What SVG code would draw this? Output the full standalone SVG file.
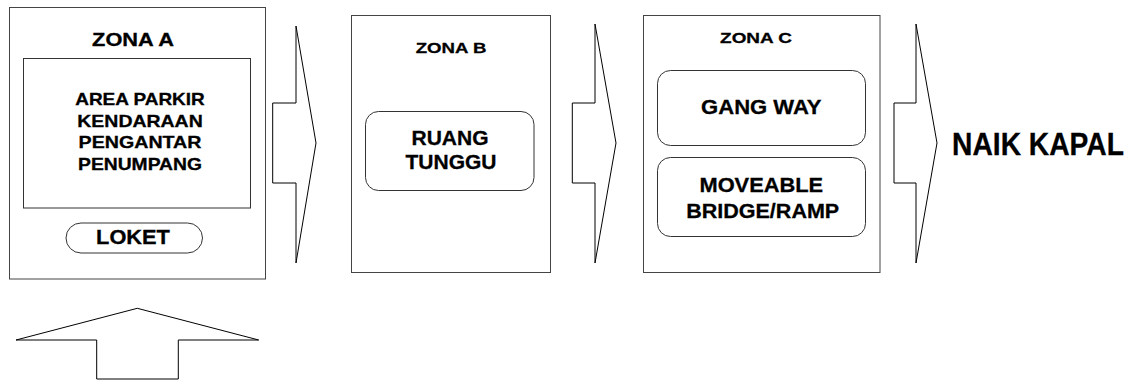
<svg xmlns="http://www.w3.org/2000/svg" width="1134" height="380" viewBox="0 0 1134 380">
<style>
.zone{fill:#fff;stroke:#444;stroke-width:1}
.inner{fill:#fff;stroke:#333;stroke-width:1}
.arrow{fill:#fff;stroke:#000;stroke-width:1;stroke-linejoin:miter}
text{font-family:"Liberation Sans",Arial,sans-serif;font-weight:bold;fill:#000;stroke:#000;stroke-width:0.3;text-anchor:middle}
</style>
<rect width="1134" height="380" fill="#fff"/>
<g id="zona-a">
<rect class="zone" x="9.5" y="7.5" width="256" height="271.5"/>
<text transform="translate(133,46) scale(1.21,1)" font-size="18">ZONA A</text>
<g id="area-parkir">
<rect class="inner" x="23.5" y="58.5" width="227" height="149.5"/>
<text transform="translate(140,105) scale(1.15,1)" font-size="16.5">AREA PARKIR</text>
<text transform="translate(140,126.5) scale(1.18,1)" font-size="16.5">KENDARAAN</text>
<text transform="translate(140,148) scale(1.19,1)" font-size="16.5">PENGANTAR</text>
<text transform="translate(140,169.5) scale(1.17,1)" font-size="16.5">PENUMPANG</text>
</g>
<g id="loket">
<rect class="inner" x="66" y="223" width="136.5" height="30" rx="15"/>
<text transform="translate(133,244) scale(1.09,1)" font-size="20">LOKET</text>
</g>
</g>
<g id="zona-b">
<rect class="zone" x="351.5" y="15.5" width="199" height="257"/>
<text transform="translate(451,52.7) scale(1.21,1)" font-size="15.4">ZONA B</text>
<g id="ruang-tunggu">
<rect class="inner" x="365.5" y="111.5" width="168.5" height="79" rx="13"/>
<text x="450" y="145" font-size="21">RUANG</text>
<text x="451" y="169" font-size="21">TUNGGU</text>
</g>
</g>
<g id="zona-c">
<rect class="zone" x="643.5" y="15.5" width="236.5" height="257"/>
<text transform="translate(756,42.5) scale(1.23,1)" font-size="15.4">ZONA C</text>
<g id="gang-way">
<rect class="inner" x="657.5" y="70.5" width="208" height="75" rx="13"/>
<text transform="translate(761.3,114.3) scale(1.05,1)" font-size="21">GANG WAY</text>
</g>
<g id="moveable-bridge">
<rect class="inner" x="657.5" y="157.5" width="208" height="79" rx="13"/>
<text transform="translate(761.3,191.7) scale(1.04,1)" font-size="21">MOVEABLE</text>
<text transform="translate(762.7,218) scale(1.025,1)" font-size="21">BRIDGE/RAMP</text>
</g>
</g>
<g id="naik-kapal">
<text transform="translate(1038,155) scale(0.91,1)" font-size="31">NAIK KAPAL</text>
</g>
<g id="connectors">
<polygon class="arrow" points="272.7,103 296,103 296,26 316,143 296,263 296,183 272.7,183"/>
<polygon class="arrow" points="572.3,103 595,103 595,24 616,143 595,263 595,183 572.3,183"/>
<polygon class="arrow" points="894,103 916,103 916,24 937,143 916,263 916,183 894,183"/>
<polygon class="arrow" points="96.7,379 96.7,340 16,340 137.3,308.3 258.7,340 178.3,340 178.3,379"/>
</g>
</svg>
